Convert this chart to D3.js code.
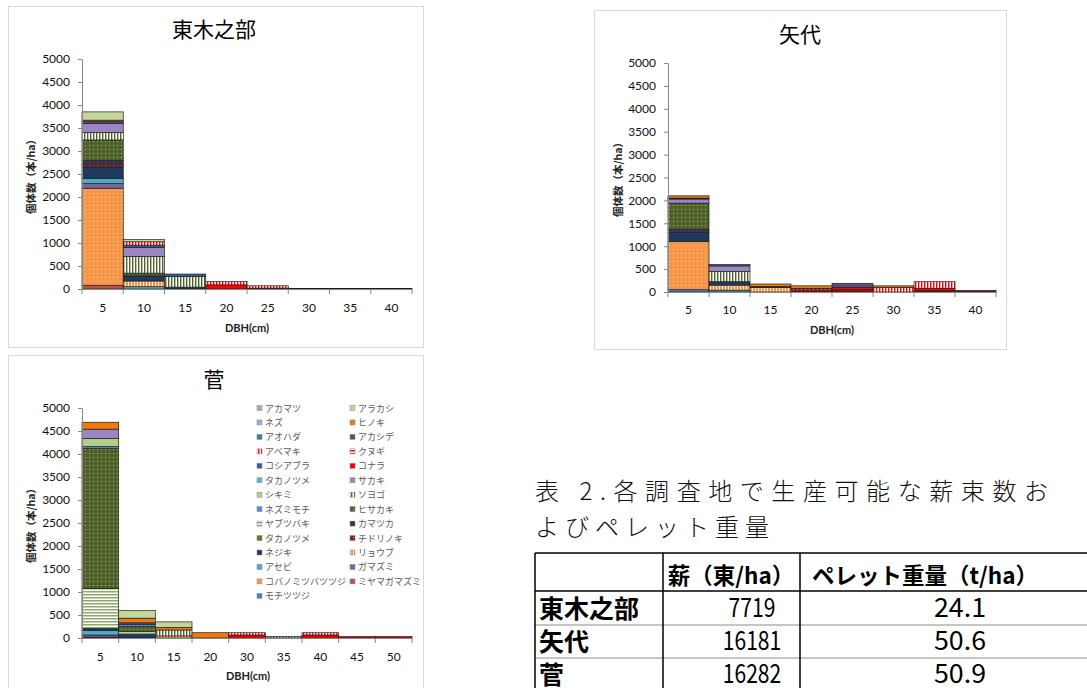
<!DOCTYPE html>
<html>
<head>
<meta charset="utf-8">
<script src="https://cdn.jsdelivr.net/npm/d3@7"></script>
<style>
  body { margin: 0; background: #fff; }
  svg { display: block; }
</style>
</head>
<body>
<svg id="page" width="1087" height="688"></svg>
<script>
// Species in legend order (stacks are drawn bottom-up in reverse of this order)
const species = [
  "アカマツ", "アラカシ", "ネズ", "ヒノキ", "アオハダ", "アカシデ", "アベマキ", "クヌギ",
  "コシアブラ", "コナラ", "タカノツメ", "サカキ", "シキミ", "ソヨゴ", "ネズミモチ", "ヒサカキ",
  "ヤブツバキ", "カマツカ", "タカノツメ", "チドリノキ", "ネジキ", "リョウブ", "アセビ", "ガマズミ",
  "コバノミツバツツジ", "ミヤマガマズミ", "モチツツジ"
];
const speciesColors = [
  "#B3A2C7", "#C4D79B", "#95B3D7", "#F07A10", "#31859C", "#604A7B", "#FF0000", "#FF0000",
  "#376092", "#FF0000", "#5AB4D6", "#9A86C2", "#B5CF87", "#4F6228", "#558ED5", "#4F6228",
  "#8EA86A", "#3F3151", "#5A7A2E", "#8B1A1A", "#1F3A5F", "#F79646", "#4BACC6", "#8064A2",
  "#F79646", "#C0504D", "#4F81BD"
];
const speciesFills = [
  "solid", "solid", "solid", "solid", "solid", "solid", "vstripe", "hstripe",
  "solid", "solid", "solid", "solid", "solid", "vstripe", "solid", "dots",
  "hstripe", "solid", "solid", "dots", "solid", "vbar", "solid", "solid",
  "dots", "solid", "solid"
];

// 東木之部: stems per ha by DBH class — [species index, counts]
const higashiClasses = ["5", "10", "15", "20", "25", "30", "35", "40"];
const higashiCounts = [
  [1,  [180,  50,   0,  0,  0, 0, 0, 0]],
  [3,  [ 30,   0,   0,  0,  0, 0, 0, 0]],
  [5,  [ 40,   0,   0,  0,  0, 0, 0, 0]],
  [6,  [  0,  72,   0, 70, 50, 0, 0, 0]],
  [8,  [  0,  50,  55,  0,  0, 0, 0, 0]],
  [9,  [  0,   0,   0, 90, 20, 8, 8, 8]],
  [11, [200, 200,   0,  0,  0, 0, 0, 0]],
  [13, [160, 360, 230,  0,  0, 0, 0, 0]],
  [15, [450,  60,   0,  0,  0, 0, 0, 0]],
  [17, [ 90,   0,   0,  0,  0, 0, 0, 0]],
  [19, [ 50,   0,   0,  0,  0, 0, 0, 0]],
  [20, [250, 110,  40,  0,  0, 0, 0, 0]],
  [21, [  0, 124,   0,  0,  0, 0, 0, 0]],
  [22, [110,  50,   0,  0,  0, 0, 0, 0]],
  [23, [100,   0,   0,  0,  0, 0, 0, 0]],
  [24, [2110,  0,   0,  0,  0, 0, 0, 0]],
  [25, [ 80,   0,   0,  0,  0, 0, 0, 0]]
];

// 矢代
const yashiroClasses = ["5", "10", "15", "20", "25", "30", "35", "40"];
const yashiroCounts = [
  [3,  [  50,   0,  55, 55,  0,  35,   0,  0]],
  [5,  [  20,   0,   0,  0, 90,   0,   0,  0]],
  [6,  [   0,   0,   0,  0,  0, 100, 145,  0]],
  [8,  [   0,  30,   0,  0,  0,   0,   0,  0]],
  [9,  [   0,   0,   0,  0, 50,   0,  50,  0]],
  [11, [  90, 125,   0,  0,  0,   0,   0,  0]],
  [13, [   0, 220,   0,  0,  0,   0,   0,  0]],
  [15, [ 570,   0,   0,  0,  0,   0,   0,  0]],
  [17, [  70,   0,   0,  0,  0,   0,   0,  0]],
  [19, [   0,   0,   0, 80, 50,   0,  30, 35]],
  [20, [ 200,  75,  20,  0,  0,   0,   0,  0]],
  [21, [   0, 110, 100,  0,  0,   0,   0,  0]],
  [22, [   0,  40,   0,  0,  0,   0,   0,  0]],
  [24, [1050,   0,   0,  0,  0,   0,   0,  0]],
  [26, [  50,   0,   0,  0,  0,   0,   0,  0]]
];

// 菅
const sugeClasses = ["5", "10", "15", "20", "30", "35", "40", "45", "50"];
const sugeCounts = [
  [1,  [   0, 165, 120,   0,  0,  0,  0,  0,  0]],
  [3,  [ 150, 100,  55, 115,  0,  0,  0,  0,  0]],
  [6,  [   0,   0,   0,   0, 50,  0, 50,  0,  0]],
  [8,  [   0,  40,   0,   0,  0,  0,  0,  0,  0]],
  [9,  [   0,   0,   0,   0, 65,  0, 65, 30, 30]],
  [11, [ 200,   0,   0,   0,  0,  0,  0,  0,  0]],
  [12, [ 180,   0,   0,   0,  0,  0,  0,  0,  0]],
  [13, [   0,   0, 130,   0,  0, 35,  0,  0,  0]],
  [14, [  35,  40,   0,   0,  0,  0,  0,  0,  0]],
  [15, [3045, 115,   0,   0,  0,  0,  0,  0,  0]],
  [16, [ 870,  55,   0,   0,  0,  0,  0,  0,  0]],
  [20, [  50,  80,   0,   0,  0,  0,  0,  0,  0]],
  [21, [   0,   0,  45,   0,  0,  0,  0,  0,  0]],
  [22, [  95,   0,   0,   0,  0,  0,  0,  0,  0]],
  [23, [  45,   0,   0,   0,  0,  0,  0,  0,  0]],
  [25, [  20,   0,   0,   0,  0,  0,  0,  0,  0]]
];

const yTicks = [0, 500, 1000, 1500, 2000, 2500, 3000, 3500, 4000, 4500, 5000];

// Table 2
const tableCaption = ["表 2.各調査地で生産可能な薪束数お", "よびペレット重量"];
const tableHeaders = ["", "薪（東/ha）", "ペレット重量（t/ha）"];
const tableSites = ["東木之部", "矢代", "菅"];
const tableBundles = ["7719", "16181", "16282"];
const tablePellets = ["24.1", "50.6", "50.9"];

const svg = d3.select("#page");
const JP = "'Noto Sans CJK JP', 'Noto Sans', sans-serif";
const NUM = "Lato, 'Open Sans', 'Liberation Sans', sans-serif";

// Fill patterns
const defs = svg.append("defs");
function fillFor(k) {
  const kind = speciesFills[k], c = speciesColors[k];
  if (kind === "solid") return c;
  const id = "pat" + k;
  if (kind === "dots") {
    const p = defs.append("pattern").attr("id", id).attr("patternUnits", "userSpaceOnUse")
      .attr("width", 4).attr("height", 4);
    p.append("rect").attr("width", 4).attr("height", 4).attr("fill", c);
    p.append("rect").attr("x", 1).attr("y", 1).attr("width", 1).attr("height", 1)
      .attr("fill", "#fff").attr("opacity", 0.55);
  } else if (kind === "vstripe") {
    const p = defs.append("pattern").attr("id", id).attr("patternUnits", "userSpaceOnUse")
      .attr("width", 3).attr("height", 3);
    p.append("rect").attr("width", 3).attr("height", 3).attr("fill", "#fff");
    p.append("rect").attr("width", 1.4).attr("height", 3).attr("fill", c);
  } else if (kind === "hstripe") {
    const p = defs.append("pattern").attr("id", id).attr("patternUnits", "userSpaceOnUse")
      .attr("width", 3).attr("height", 3);
    p.append("rect").attr("width", 3).attr("height", 3).attr("fill", "#fff");
    p.append("rect").attr("width", 3).attr("height", 1.5).attr("fill", c);
  } else if (kind === "vbar") {
    const p = defs.append("pattern").attr("id", id).attr("patternUnits", "userSpaceOnUse")
      .attr("width", 3).attr("height", 3);
    p.append("rect").attr("width", 3).attr("height", 3).attr("fill", c);
    p.append("rect").attr("x", 2).attr("width", 1).attr("height", 3).attr("fill", "#fff").attr("opacity", 0.85);
  }
  return `url(#${id})`;
}
const speciesFillRefs = species.map((_, k) => fillFor(k));

function drawChart(cfg) {
  const g = svg.append("g");
  g.append("rect").attr("x", cfg.frame[0] + 0.5).attr("y", cfg.frame[1] + 0.5)
    .attr("width", cfg.frame[2]).attr("height", cfg.frame[3])
    .attr("fill", "#fff").attr("stroke", "#d9d9d9");

  const x = d3.scaleBand().domain(cfg.classes).range([cfg.left, cfg.right]).padding(0);
  const y = d3.scaleLinear().domain([0, 5000]).range([cfg.bottom, cfg.top]);

  const rows = cfg.classes.map((c, i) => {
    const o = { cls: c };
    species.forEach((_, k) => { o["s" + k] = 0; });
    cfg.counts.forEach(([k, vals]) => { o["s" + k] = vals[i]; });
    return o;
  });
  const keys = species.map((_, k) => "s" + k).reverse();
  const layers = d3.stack().keys(keys)(rows);

  // title
  g.append("text").attr("x", cfg.title[0]).attr("y", cfg.title[1])
    .attr("text-anchor", "middle").attr("font-family", JP).attr("font-size", 21)
    .attr("fill", "#000").text(cfg.name);

  // bars
  layers.forEach(layer => {
    const k = +layer.key.slice(1);
    g.append("g").selectAll("rect")
      .data(layer.filter(d => d[1] - d[0] > 0))
      .join("rect")
      .attr("x", d => x(d.data.cls))
      .attr("width", x.bandwidth())
      .attr("y", d => y(d[1]))
      .attr("height", d => y(d[0]) - y(d[1]))
      .attr("fill", speciesFillRefs[k])
      .attr("stroke", "#1e1e1e").attr("stroke-width", 0.7);
  });

  // y axis
  const ya = g.append("g").attr("transform", `translate(${cfg.left},0)`)
    .call(d3.axisLeft(y).tickValues(yTicks).tickSize(4).tickSizeOuter(0).tickPadding(8).tickFormat(d3.format("d")));
  ya.select(".domain").attr("stroke", "#868686");
  ya.selectAll(".tick line").attr("stroke", "#868686");
  ya.selectAll(".tick text").attr("font-family", NUM).attr("font-size", 12).attr("fill", "#111");

  // x axis: labels at class centres, tick marks at class boundaries
  const xa = g.append("g").attr("transform", `translate(0,${cfg.bottom})`)
    .call(d3.axisBottom(x).tickSize(0).tickSizeOuter(0).tickPadding(cfg.xPad));
  xa.select(".domain").attr("stroke", "#868686");
  xa.selectAll(".tick text").attr("font-family", NUM).attr("font-size", 12).attr("fill", "#111");
  const edges = cfg.classes.map(c => x(c)).concat([x.range()[1]]);
  xa.selectAll("line.edge").data(edges).join("line").attr("class", "edge")
    .attr("x1", d => d).attr("x2", d => d).attr("y1", 0).attr("y2", 5)
    .attr("stroke", "#868686");

  // axis titles
  g.append("text").attr("transform", `translate(${cfg.yLab[0]},${cfg.yLab[1]}) rotate(-90)`)
    .attr("text-anchor", "middle").attr("dominant-baseline", "central")
    .attr("font-family", JP).attr("font-weight", "bold").attr("font-size", 10.5)
    .attr("fill", "#222").text("個体数（本/ha）");
  g.append("text").attr("x", cfg.xLab[0]).attr("y", cfg.xLab[1])
    .attr("text-anchor", "middle").attr("font-family", NUM).attr("font-weight", "bold")
    .attr("font-size", 11).attr("fill", "#222").text("DBH(cm)");

  return g;
}

drawChart({
  name: "東木之部", classes: higashiClasses, counts: higashiCounts,
  frame: [8, 6, 415, 341], left: 82, right: 412, top: 59, bottom: 289,
  title: [214, 37], yLab: [30, 174], xLab: [247, 332], xPad: 14
});
drawChart({
  name: "矢代", classes: yashiroClasses, counts: yashiroCounts,
  frame: [594, 10, 412, 339], left: 668, right: 996, top: 63, bottom: 292,
  title: [800, 42], yLab: [617, 177], xLab: [832, 334], xPad: 13
});
const suge = drawChart({
  name: "菅", classes: sugeClasses, counts: sugeCounts,
  frame: [8, 355, 415, 345], left: 82, right: 412, top: 408, bottom: 638,
  title: [214, 387], yLab: [30, 523], xLab: [248, 680], xPad: 14
});

// legend (two columns, row-wise)
const legend = suge.append("g");
species.forEach((name, k) => {
  const col = k % 2, row = Math.floor(k / 2);
  const cx = col === 0 ? 257 : 350;
  const cy = 408 + row * 14.45;
  legend.append("rect").attr("x", cx).attr("y", cy - 2.5).attr("width", 5).attr("height", 5)
    .attr("fill", speciesFillRefs[k]).attr("stroke", "#888").attr("stroke-width", 0.5);
  legend.append("text").attr("x", cx + 8).attr("y", cy).attr("dominant-baseline", "central")
    .attr("font-family", JP).attr("font-size", 9).attr("fill", "#595959").text(name);
});

// Table 2
const tbl = svg.append("g");
tbl.append("text").attr("x", 535).attr("y", 500).attr("font-family", JP).attr("font-weight", 300)
  .attr("font-size", 24).attr("fill", "#111")
  .attr("textLength", 513).attr("lengthAdjust", "spacing").text(tableCaption[0]);
tbl.append("text").attr("x", 535).attr("y", 536).attr("font-family", JP).attr("font-weight", 300)
  .attr("font-size", 24).attr("letter-spacing", 6).attr("fill", "#111").text(tableCaption[1]);

const rowLines = [553, 591, 625, 658];
rowLines.forEach((yy, i) => {
  tbl.append("line").attr("x1", 535).attr("x2", 1087).attr("y1", yy).attr("y2", yy)
    .attr("stroke", i < 2 ? "#000" : "#8c8c8c").attr("stroke-width", i < 2 ? 1.5 : 1.2);
});
[535, 663, 800].forEach(xx => {
  tbl.append("line").attr("x1", xx).attr("x2", xx).attr("y1", 553).attr("y2", 688)
    .attr("stroke", "#000").attr("stroke-width", 1.5);
});
tbl.append("text").attr("x", 731).attr("y", 584).attr("text-anchor", "middle")
  .attr("font-family", JP).attr("font-weight", "bold").attr("font-size", 22.5).attr("fill", "#000")
  .text(tableHeaders[1]);
tbl.append("text").attr("x", 925).attr("y", 584).attr("text-anchor", "middle")
  .attr("font-family", JP).attr("font-weight", "bold").attr("font-size", 22.5).attr("fill", "#000")
  .text(tableHeaders[2]);
const rowBase = [618, 651, 684];
tableSites.forEach((s, i) => {
  tbl.append("text").attr("x", 539).attr("y", rowBase[i]).attr("font-family", JP)
    .attr("font-weight", "bold").attr("font-size", 25).attr("fill", "#000").text(s);
  tbl.append("text").attr("x", 752).attr("y", rowBase[i] - 1).attr("text-anchor", "middle")
    .attr("font-family", JP).attr("font-size", 26).attr("fill", "#000")
    .attr("textLength", tableBundles[i].length * 11.7).attr("lengthAdjust", "spacingAndGlyphs")
    .text(tableBundles[i]);
  tbl.append("text").attr("x", 960).attr("y", rowBase[i] - 1).attr("text-anchor", "middle")
    .attr("font-family", JP).attr("font-size", 26).attr("fill", "#000")
    .attr("textLength", tablePellets[i].length * 13).attr("lengthAdjust", "spacingAndGlyphs")
    .text(tablePellets[i]);
});
</script>
</body>
</html>
